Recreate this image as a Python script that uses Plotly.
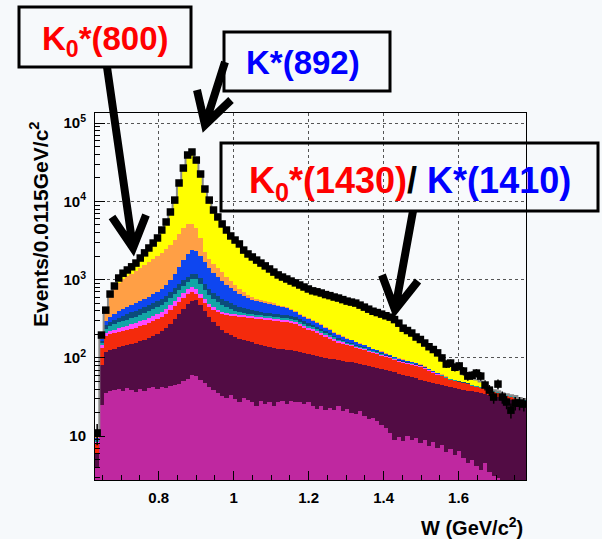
import numpy as np
import plotly.graph_objects as go

# ---------------- data ----------------
W_LO, W_HI, BIN_W = 0.63, 1.78, 0.0115
N_BINS = 100

data_events = [11, 196, 408, 655, 830, 1050, 1210, 1330, 1460, 1630,
               1890, 2200, 2540, 2940, 3410, 4310, 5460, 7330, 10400, 17200,
               26700, 39200, 42800, 33800, 22400, 14400, 10400, 7760, 6330, 5150,
               4310, 3620, 3210, 2860, 2390, 2130, 1950, 1780, 1630, 1500,
               1370, 1250, 1150, 1080, 1020, 960, 910, 855, 806, 760,
               720, 700, 675, 645, 625, 600, 582, 556, 532, 517,
               502, 473, 446, 420, 395, 380, 363, 346, 332, 309,
               278, 240, 224, 208, 185, 172, 155, 139, 128, 116,
               100, 83.5, 86, 76, 79, 68, 58.6, 60, 64, 58.6,
               45, 38.8, 31.6, 46.3, 31.6, 27.3, 21.5, 26.5, 26.5, 25.7]

# cumulative stack tops of the MC components (bottom -> top)
top_magenta = [4, 25, 36, 38, 39, 40, 38, 41, 39, 37,
               40, 38, 41, 42, 40, 42, 41, 44, 45, 46,
               50, 54, 60, 58, 53, 48, 42, 39, 36, 33,
               31, 34, 30, 27, 31, 29, 27, 24, 28, 26,
               27, 24, 27, 28, 26, 28, 27, 27, 26, 27,
               24, 22, 24, 21.5, 23, 21.5, 24, 21, 22, 20,
               19, 21, 18, 16.5, 17, 15.5, 14, 12.7, 11, 8.9,
               9.8, 8.6, 10, 8.9, 9.4, 8.1, 8.9, 7.4, 8.4, 7,
               7.7, 6.2, 6.8, 5.7, 6.4, 5.2, 4.6, 4.9, 4.1, 3.7,
               4.5, 3.5, 3.1, 2.9, 2.0, 2.0, 1.5, 2.0, 1.5, 1.0]

top_purple = [6, 81, 119, 126, 130, 137, 141, 146, 150, 155,
              164, 169, 179, 190, 201, 220, 240, 270, 313, 363,
              420, 487, 532, 548, 473, 396, 332, 287, 255, 227,
              208, 196, 185, 176, 169, 164, 159, 152, 146, 141,
              137, 133, 130, 130, 126, 126, 122, 119, 116, 112,
              109, 106, 103, 100, 97, 97, 94, 91, 88.6, 88.6,
              86, 83.5, 81, 78.7, 76, 74, 72, 70, 68, 66,
              62, 60, 58.6, 57, 55.3, 52, 50, 49, 47.5, 46,
              45, 43.7, 42, 41.2, 40, 38.8, 37.5, 37.5, 36.6, 35.5,
              34.5, 33.5, 32.5, 31.5, 30.7, 29.8, 28.9, 28.9, 28, 27.3]

top_red = [8, 133, 190, 201, 208, 214, 220, 227, 233, 240,
           255, 262, 278, 295, 313, 332, 363, 408, 460, 517,
           582, 655, 694, 655, 582, 502, 446, 408, 385, 363,
           352, 342, 342, 332, 332, 322, 322, 313, 313, 304,
           304, 295, 295, 287, 287, 278, 270, 255, 240, 227,
           220, 208, 196, 185, 174, 164, 155, 150, 146, 141,
           133, 130, 126, 119, 116, 112, 106, 103, 100, 94,
           88.6, 86, 83.5, 81, 78.7, 76, 72, 68, 64, 60,
           58.6, 55.3, 52, 50.6, 49, 47.7, 46.3, 43.7, 42.4, 41.2,
           40, 37.7, 36.6, 35.5, 33.5, 32.5, 31.5, 30.7, 28.9, 28]

top_pink = [8.5, 146, 208, 220, 227, 240, 248, 255, 270, 278,
            295, 304, 322, 342, 363, 385, 420, 473, 532, 600,
            674, 760, 806, 760, 655, 565, 487, 446, 408, 385,
            374, 363, 363, 352, 352, 342, 342, 332, 332, 322,
            322, 313, 313, 304, 304, 295, 287, 270, 255, 240,
            233, 220, 208, 196, 185, 174, 164, 159, 152, 148,
            139, 135, 131, 124, 119, 116, 109, 106, 103, 97,
            91, 88.6, 86, 83.5, 81, 78.7, 74, 69.4, 65.4, 61.5,
            59.5, 56, 53, 51.3, 49.5, 48.2, 46.8, 44.2, 42.9, 41.7,
            40.5, 38.1, 37, 35.9, 33.9, 32.9, 31.9, 31.1, 29.3, 28.4]

top_teal = [9, 155, 233, 255, 270, 287, 295, 304, 322, 332,
            352, 374, 396, 420, 446, 473, 517, 582, 655, 736,
            830, 935, 1020, 1020, 880, 736, 636, 565, 517, 473,
            446, 420, 396, 385, 374, 363, 363, 352, 352, 342,
            342, 332, 332, 322, 322, 313, 304, 287, 270, 255,
            248, 233, 220, 208, 196, 183, 172, 164, 157, 152,
            143, 139, 135, 128, 122, 119, 112, 107, 104, 98.5,
            92.5, 90, 87, 85, 82, 80, 75, 70, 66, 62,
            60, 56.5, 53.2, 51.6, 49.8, 48.5, 47.1, 44.5, 43.2, 42,
            40.8, 38.4, 37.3, 36.2, 34.2, 33.2, 32.2, 31.4, 29.6, 28.7]

top_darkblue = [9.3, 164, 262, 287, 304, 322, 342, 363, 385, 396,
                420, 446, 473, 502, 532, 565, 617, 694, 783, 880,
                990, 1080, 1180, 1180, 1050, 880, 760, 674, 617, 565,
                532, 502, 473, 446, 433, 420, 408, 396, 385, 374,
                374, 363, 363, 352, 352, 342, 332, 313, 295, 278,
                262, 248, 233, 220, 208, 190, 179, 169, 162, 157,
                148, 143, 139, 130, 124, 121, 114, 109, 106, 100,
                94, 91, 88.6, 86, 83.5, 81, 76, 70.7, 66.7, 62.7,
                60.5, 57, 53.5, 52, 50.2, 48.8, 47.4, 44.8, 43.5, 42.3,
                41.1, 38.7, 37.6, 36.5, 34.5, 33.5, 32.5, 31.7, 29.9, 29]

top_blue = [9.6, 174, 295, 332, 363, 396, 420, 446, 473, 502,
            532, 565, 600, 655, 694, 760, 855, 990, 1180, 1460,
            1780, 2130, 2390, 2320, 2010, 1680, 1410, 1210, 1080, 960,
            855, 783, 715, 655, 617, 582, 548, 532, 517, 502,
            487, 473, 460, 446, 433, 408, 385, 352, 332, 313,
            295, 278, 262, 240, 227, 208, 196, 185, 174, 169,
            159, 152, 146, 137, 130, 126, 119, 112, 109, 103,
            97, 94, 91, 88.6, 86, 82, 77, 71.5, 67.5, 63.5,
            61, 57.5, 54, 52.3, 50.5, 49.1, 47.7, 45.1, 43.8, 42.6,
            41.4, 39, 37.9, 36.8, 34.8, 33.8, 32.8, 32, 30.2, 29.3]

top_orange = [10, 180, 370, 600, 760, 910, 1020, 1110, 1180, 1290,
              1410, 1540, 1680, 1830, 2010, 2200, 2460, 2770, 3210, 3840,
              4580, 5150, 5150, 4580, 3410, 2260, 1830, 1590, 1410, 1250,
              1080, 960, 855, 760, 694, 636, 600, 565, 548, 532,
              517, 502, 473, 460, 446, 420, 396, 363, 342, 322,
              304, 287, 270, 248, 233, 214, 201, 190, 179, 172,
              162, 155, 148, 139, 131, 128, 121, 114, 110, 104,
              98.5, 95.5, 92.5, 90, 87, 83.5, 78.7, 72, 68, 64,
              61.5, 58, 54.2, 52.5, 50.6, 49.4, 48, 45.4, 44.1, 42.9,
              41.7, 39.3, 38.2, 37.1, 35.1, 34.1, 33.1, 32.3, 30.5, 29.6]

top_yellow = [10.5, 185, 385, 620, 790, 1000, 1150, 1260, 1380, 1540,
              1790, 2080, 2400, 2780, 3220, 4070, 5150, 6920, 9800, 16200,
              25200, 37000, 40400, 31900, 21100, 13600, 9850, 7330, 5960, 4860,
              4070, 3410, 3030, 2700, 2260, 2010, 1840, 1680, 1540, 1410,
              1290, 1180, 1080, 1020, 960, 905, 860, 805, 760, 715,
              680, 660, 635, 608, 590, 566, 548, 524, 502, 487,
              473, 446, 420, 396, 373, 358, 342, 326, 313, 291,
              262, 226, 211, 196, 174, 162, 146, 131, 121, 109,
              94, 80, 78, 72, 70, 62, 55, 54, 53, 50,
              43, 39.6, 38.5, 37.4, 35.4, 34.4, 33.4, 32.6, 30.8, 29.9]

stack_layers = [  # drawn from the top of the stack downwards
    ("yellow", top_yellow, "#FFFF00"),
    ("orange", top_orange, "#FF9F45"),
    ("blue", top_blue, "#0E46F0"),
    ("darkblue", top_darkblue, "#0B4C7B"),
    ("teal", top_teal, "#12A6A6"),
    ("pink", top_pink, "#FF48FF"),
    ("red", top_red, "#F42A0C"),
    ("purple", top_purple, "#520C44"),
    ("magenta", top_magenta, "#BF28A0"),
]

x_tick_vals = [0.8, 1.0, 1.2, 1.4, 1.6]
x_tick_text = ["0.8", "1", "1.2", "1.4", "1.6"]
y_tick_vals = [10, 100, 1000, 10000, 100000]
y_tick_text = ["10", "10<sup>2</sup>", "10<sup>3</sup>", "10<sup>4</sup>", "10<sup>5</sup>"]
y_minor_vals = [m * 10 ** e for e in range(0, 6) for m in range(2, 10)]

# ---------------- figure ----------------
centers = W_LO + BIN_W * (np.arange(N_BINS) + 0.5)
edges = W_LO + BIN_W * np.arange(N_BINS + 1)

FONT = "Liberation Sans, Arial, Helvetica, sans-serif"
fig = go.Figure()

for name, vals, col in stack_layers:
    fig.add_trace(go.Bar(x=centers, y=vals, width=BIN_W, name=name,
                         marker=dict(color=col, line=dict(width=0)),
                         opacity=1, showlegend=False, hoverinfo="skip"))

# total MC outline
fig.add_trace(go.Scatter(x=edges, y=list(top_yellow) + [top_yellow[-1]],
                         mode="lines", line=dict(color="#8a8a8a", width=2, shape="hv"),
                         showlegend=False, hoverinfo="skip"))

# data points
d = np.array(data_events, dtype=float)
fig.add_trace(go.Scatter(x=centers, y=d, mode="markers",
                         marker=dict(symbol="square", size=7.5, color="black"),
                         error_y=dict(type="data", array=np.sqrt(d), thickness=1.5,
                                      width=0, color="black"),
                         showlegend=False))

# plot area in pixels
L, R, T, B = 95, 526, 113, 480
W_PX, H_PX = 602, 539


def px(x):
    return (x - L) / (R - L)


def py(y):
    return (B - y) / (B - T)


shapes = []
# annotation boxes (border only)
for (x0, x1, y0, y1) in [(19, 191, 7, 67), (224, 390, 32, 91), (221, 598, 143, 211)]:
    shapes.append(dict(type="rect", xref="paper", yref="paper",
                       x0=px(x0), x1=px(x1), y0=py(y1), y1=py(y0),
                       line=dict(color="black", width=3), fillcolor="rgba(0,0,0,0)",
                       layer="above"))

# arrows: shaft + open V head
arrows = [
    ((107, 67), (133, 248), (112, 217), (146, 215)),
    ((225, 62), (205, 125), (197, 90), (231, 100)),
    ((413, 211), (395, 310), (382, 275), (418, 281)),
]
for (s, tip, h1, h2) in arrows:
    path = (f"M {px(s[0])},{py(s[1])} L {px(tip[0])},{py(tip[1])} "
            f"M {px(h1[0])},{py(h1[1])} L {px(tip[0])},{py(tip[1])} L {px(h2[0])},{py(h2[1])}")
    shapes.append(dict(type="path", xref="paper", yref="paper", path=path,
                       line=dict(color="black", width=8), layer="above"))

annotations = [
    dict(text="<b>K<sub>0</sub>*(800)</b>", x=px(105), y=py(41), font=dict(size=33, color="#FF0000")),
    dict(text="<b>K*(892)</b>", x=px(303), y=py(62), font=dict(size=33, color="#0000FF")),
    dict(text="<b><span style='color:#FF0000'>K<sub>0</sub>*(1430)</span>"
              "<span style='color:#000000'>/ </span>"
              "<span style='color:#0000FF'>K*(1410)</span></b>",
         x=px(410), y=py(183), font=dict(size=36)),
    dict(text="<b>Events/0.0115GeV/c<sup>2</sup></b>", x=px(39), y=py(225),
         textangle=-90, font=dict(size=21, color="black")),
    dict(text="<b>W (GeV/c<sup>2</sup>)</b>", x=px(525), y=py(526), xanchor="right",
         font=dict(size=20, color="black")),
]
for a in annotations:
    a.setdefault("xanchor", "center")
    a.update(xref="paper", yref="paper", yanchor="middle", showarrow=False)
    a["font"].setdefault("family", FONT)

fig.update_layout(
    width=W_PX, height=H_PX,
    margin=dict(l=L, r=W_PX - R, t=T, b=H_PX - B),
    paper_bgcolor="#F6F9FB", plot_bgcolor="#F8FAFC",
    barmode="overlay", bargap=0,
    shapes=shapes, annotations=annotations,
    font=dict(family=FONT, color="black"),
    xaxis=dict(range=[W_LO, W_HI], tickmode="array", tickvals=x_tick_vals, ticktext=x_tick_text,
               ticks="inside", ticklen=9, tickcolor="black", tickwidth=1,
               tickfont=dict(size=15, weight="bold", family=FONT, color="black"),
               ticklabelstandoff=4,
               showgrid=True, gridcolor="#555555", griddash="dot", gridwidth=1,
               minor=dict(dtick=0.05, tick0=0.8, ticks="inside", ticklen=5,
                          tickcolor="black", showgrid=False),
               showline=True, linecolor="black", linewidth=1, mirror=True, zeroline=False),
    yaxis=dict(type="log", range=[0.44, 5.13], tickmode="array", tickvals=y_tick_vals,
               ticktext=y_tick_text, ticks="inside", ticklen=10, tickcolor="black",
               tickfont=dict(size=15, weight="bold", family=FONT, color="black"),
               ticklabelstandoff=5,
               showgrid=True, gridcolor="#555555", griddash="dot", gridwidth=1,
               minor=dict(tickmode="array", tickvals=y_minor_vals, ticks="inside",
                          ticklen=5, tickcolor="black", showgrid=False),
               showline=True, linecolor="black", linewidth=1, mirror=True, zeroline=False),
)

fig.write_html("out.html")
